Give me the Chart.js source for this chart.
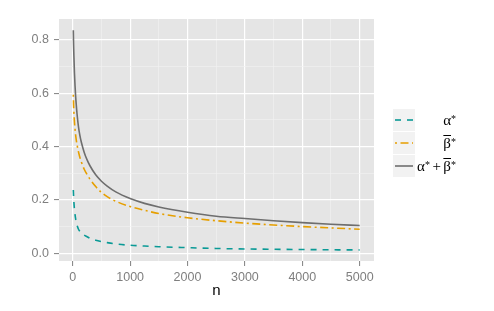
<!DOCTYPE html>
<html>
<head>
<meta charset="utf-8">
<script src="https://cdn.jsdelivr.net/npm/chart.js@4/dist/chart.umd.min.js"></script>
<style>
  html, body { margin: 0; padding: 0; background: #fff; }
  #wrap { width: 494px; height: 311px; }
</style>
</head>
<body>
<div id="wrap"><canvas id="chart" width="494" height="311"></canvas></div>
<script>
// Data
const nValues = [10, 15, 20, 30, 40, 50, 60, 75, 100, 125, 150, 200, 250, 300, 400, 500, 600, 750, 1000, 1250, 1500, 2000, 2500, 3000, 3500, 4000, 4500, 5000];
const alphaStar = [0.237, 0.212, 0.192, 0.164, 0.145, 0.130, 0.119, 0.105, 0.090, 0.082, 0.076, 0.068, 0.062, 0.056, 0.049, 0.044, 0.040, 0.035, 0.030, 0.027, 0.0245, 0.021, 0.018, 0.016, 0.015, 0.014, 0.013, 0.0125];
const betaBarStar = [0.594, 0.556, 0.530, 0.492, 0.465, 0.444, 0.427, 0.407, 0.380, 0.359, 0.342, 0.315, 0.295, 0.278, 0.250, 0.228, 0.212, 0.195, 0.175, 0.161, 0.149, 0.133, 0.122, 0.113, 0.106, 0.100, 0.095, 0.090];
const sumStar = [0.836, 0.780, 0.740, 0.675, 0.628, 0.590, 0.560, 0.522, 0.474, 0.441, 0.416, 0.378, 0.350, 0.328, 0.294, 0.270, 0.252, 0.230, 0.205, 0.187, 0.1735, 0.154, 0.139, 0.130, 0.122, 0.115, 0.109, 0.104];

const xTicks = [0, 500, 1000, 1500, 2000, 2500, 3000, 3500, 4000, 4500, 5000];
const xTickLabels = ["0", "", "1000", "", "2000", "", "3000", "", "4000", "", "5000"];
const yTicks = [0, 0.1, 0.2, 0.3, 0.4, 0.5, 0.6, 0.7, 0.8];
const yTickLabels = ["0.0", "", "0.2", "", "0.4", "", "0.6", "", "0.8"];

const tealColor = "#0A9A96";
const orangeColor = "#E69F00";
const greyColor = "#6E6E6E";

const toPoints = (ys) => nValues.map((n, i) => ({ x: n, y: ys[i] }));

// ggplot-like grey panel
const panelBg = {
    id: "panelBg",
    beforeDraw(chart) {
        const { ctx, chartArea: a } = chart;
        ctx.save();
        ctx.fillStyle = "#E5E5E5";
        ctx.fillRect(a.left, a.top, a.right - a.left, a.bottom - a.top);
        ctx.restore();
    },
};

// Legend with math labels (overline, superscripts)
const legendItems = [
    { color: tealColor, dash: [6, 6], parts: [{ t: "α" }, { t: "*", sup: true }] },
    { color: orangeColor, dash: [2, 3.5, 8, 3.5], parts: [{ t: "β", over: true }, { t: "*", sup: true }] },
    { color: greyColor, dash: [], parts: [{ t: "α" }, { t: "*", sup: true }, { t: "+", op: true }, { t: "β", over: true }, { t: "*", sup: true }] },
];

function drawExpr(ctx, parts, right, baseline) {
    const size = 15;
    const baseFont = size + "px 'Liberation Serif', 'DejaVu Serif', serif";
    const supFont = "10px 'Liberation Serif', 'DejaVu Serif', serif";
    const widths = parts.map((p) => {
        ctx.font = p.sup ? supFont : baseFont;
        return ctx.measureText(p.t).width + (p.op ? 5 : 0);
    });
    let x = right - widths.reduce((s, w) => s + w, 0);
    ctx.fillStyle = "#000";
    ctx.textBaseline = "alphabetic";
    ctx.textAlign = "left";
    parts.forEach((p, i) => {
        ctx.font = p.sup ? supFont : baseFont;
        const tx = p.op ? x + 2.5 : x;
        const ty = p.sup ? baseline - 3 : baseline;
        ctx.fillText(p.t, tx, ty);
        if (p.over) {
            ctx.strokeStyle = "#000";
            ctx.lineWidth = 1;
            ctx.beginPath();
            ctx.moveTo(x, baseline - 12.5);
            ctx.lineTo(x + widths[i], baseline - 12.5);
            ctx.stroke();
        }
        x += widths[i];
    });
}

const mathLegend = {
    id: "mathLegend",
    afterDraw(chart) {
        const { ctx } = chart;
        ctx.save();
        legendItems.forEach((item, i) => {
            const top = 109 + i * 23;
            ctx.fillStyle = "#F2F2F2";
            ctx.fillRect(393, top, 22, 22);
            const cy = top + 11;
            ctx.strokeStyle = item.color;
            ctx.lineWidth = 1.6;
            ctx.setLineDash(item.dash);
            ctx.beginPath();
            ctx.moveTo(395, cy);
            ctx.lineTo(413, cy);
            ctx.stroke();
            ctx.setLineDash([]);
            drawExpr(ctx, item.parts, 456, cy + 5);
        });
        ctx.restore();
    },
};

const isMajor = (ticks, labels, v) => {
    const i = ticks.findIndex((t) => Math.abs(t - v) < 1e-9);
    return i >= 0 && labels[i] !== "";
};

const makeSeries = (label, ys, color, dash) => ({
    label,
    data: toPoints(ys),
    borderColor: color,
    borderWidth: 1.6,
    borderDash: dash,
    pointRadius: 0,
    fill: false,
    cubicInterpolationMode: "monotone",
});

const ctx = document.getElementById("chart").getContext("2d");
new Chart(ctx, {
    type: "line",
    data: {
        datasets: [
            makeSeries("alpha*", alphaStar, tealColor, [6, 6]),
            makeSeries("beta*", betaBarStar, orangeColor, [2, 3.5, 8, 3.5]),
            makeSeries("alpha*+beta*", sumStar, greyColor, []),
        ],
    },
    options: {
        responsive: false,
        devicePixelRatio: 1,
        animation: false,
        layout: { padding: { top: 19, right: 120, bottom: 0, left: 0 } },
        plugins: {
            legend: { display: false },
            tooltip: { enabled: false },
        },
        scales: {
            x: {
                type: "linear",
                min: -239.5,
                max: 5249.5,
                afterFit: (scale) => { scale.height = 50; },
                afterBuildTicks: (scale) => { scale.ticks = xTicks.map((v) => ({ value: v })); },
                border: { display: false },
                grid: {
                    color: (c) => (c.tick && isMajor(xTicks, xTickLabels, c.tick.value) ? "#FFFFFF" : "#F2F2F2"),
                    lineWidth: (c) => (c.tick && isMajor(xTicks, xTickLabels, c.tick.value) ? 1.2 : 0.6),
                    tickColor: (c) => (c.tick && isMajor(xTicks, xTickLabels, c.tick.value) ? "#7F7F7F" : "rgba(0,0,0,0)"),
                    tickLength: 5,
                    tickWidth: 1,
                },
                ticks: {
                    autoSkip: false,
                    maxRotation: 0,
                    padding: 4,
                    color: "#7F7F7F",
                    font: { family: "'Liberation Sans', Arial, sans-serif", size: 12.5 },
                    callback: (v) => xTickLabels[xTicks.indexOf(v)] ?? "",
                },
                title: {
                    display: true,
                    text: "n",
                    color: "#000",
                    font: { family: "'Liberation Sans', Arial, sans-serif", size: 15 },
                    padding: { top: 0, bottom: 11 },
                },
            },
            y: {
                type: "linear",
                min: -0.029,
                max: 0.878,
                afterFit: (scale) => { scale.width = 59; },
                afterBuildTicks: (scale) => { scale.ticks = yTicks.map((v) => ({ value: v })); },
                border: { display: false },
                grid: {
                    color: (c) => (c.tick && isMajor(yTicks, yTickLabels, c.tick.value) ? "#FFFFFF" : "#F2F2F2"),
                    lineWidth: (c) => (c.tick && isMajor(yTicks, yTickLabels, c.tick.value) ? 1.2 : 0.6),
                    tickColor: (c) => (c.tick && isMajor(yTicks, yTickLabels, c.tick.value) ? "#7F7F7F" : "rgba(0,0,0,0)"),
                    tickLength: 5,
                    tickWidth: 1,
                },
                ticks: {
                    autoSkip: false,
                    padding: 5,
                    color: "#7F7F7F",
                    font: { family: "'Liberation Sans', Arial, sans-serif", size: 12.5 },
                    callback: (v) => {
                        const i = yTicks.findIndex((t) => Math.abs(t - v) < 1e-9);
                        return i >= 0 ? yTickLabels[i] : "";
                    },
                },
            },
        },
    },
    plugins: [panelBg, mathLegend],
});
</script>
</body>
</html>
